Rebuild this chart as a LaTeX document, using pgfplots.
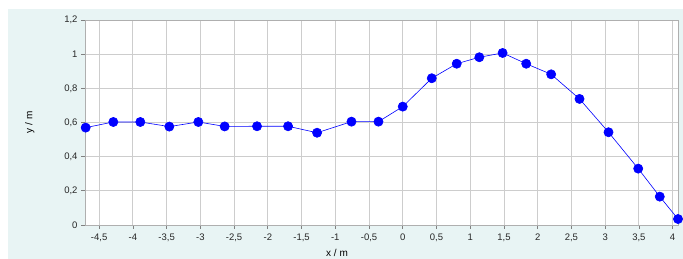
\documentclass[border=0pt]{standalone}
\usepackage{pgfplots}
\pgfplotsset{compat=1.18}
\usepackage{fontspec}
\setmainfont{Liberation Sans}
\definecolor{bgc}{RGB}{232,244,244}
\definecolor{gridc}{RGB}{205,205,205}
\definecolor{framec}{RGB}{175,175,175}
\begin{document}
\begin{tikzpicture}
\fill[white] (0pt,0pt) rectangle (683pt,259pt);
\fill[bgc] (8pt,0pt) rectangle (683pt,250pt);
\begin{axis}[
  at={(85pt,34pt)}, anchor=south west, scale only axis,
  width=593pt, height=205pt,
  xmin=-4.71, xmax=4.08, ymin=0, ymax=1.2,
  xtick={-4.5,-4,-3.5,-3,-2.5,-2,-1.5,-1,-0.5,0,0.5,1,1.5,2,2.5,3,3.5,4},
  ytick={0,0.2,0.4,0.6,0.8,1,1.2},
  /pgf/number format/.cd, use comma, assume math mode=true, /pgfplots/.cd,
  grid=major, major grid style={gridc, line width=0.9pt},
  axis line style={framec, line width=0.9pt},
  axis background/.style={fill=white},
  tick pos=left, tick align=outside, major tick length=4pt,
  tick style={gray, line width=0.7pt},
  ticklabel style={font=\fontsize{9.5}{11}\selectfont, text=black!85},
  xticklabel style={yshift=-1pt},
  ylabel={y / m}, xlabel={x / m},
  ylabel style={at={(axis description cs:-0.093,0.5)}, anchor=center, font=\fontsize{10}{12}\selectfont},
  xlabel style={at={(axis description cs:0.425,-0.155)}, anchor=base, font=\fontsize{10}{12}\selectfont},
]
\addplot[blue, line width=0.6pt, mark=*, mark size=4.6pt, mark options={fill=blue, draw=blue}] coordinates {
(-4.70,0.570) (-4.29,0.603) (-3.89,0.603) (-3.46,0.576) (-3.03,0.603)
(-2.64,0.577) (-2.16,0.578) (-1.70,0.578) (-1.27,0.540) (-0.76,0.605)
(-0.36,0.605) (0.00,0.693) (0.43,0.859) (0.80,0.944) (1.135,0.982)
(1.48,1.007) (1.83,0.944) (2.20,0.882) (2.62,0.738) (3.05,0.543)
(3.49,0.330) (3.81,0.166) (4.08,0.035)
};
\end{axis}
\pgfresetboundingbox
\path[use as bounding box] (0pt,0pt) rectangle (683pt,259pt);
\end{tikzpicture}
\end{document}
